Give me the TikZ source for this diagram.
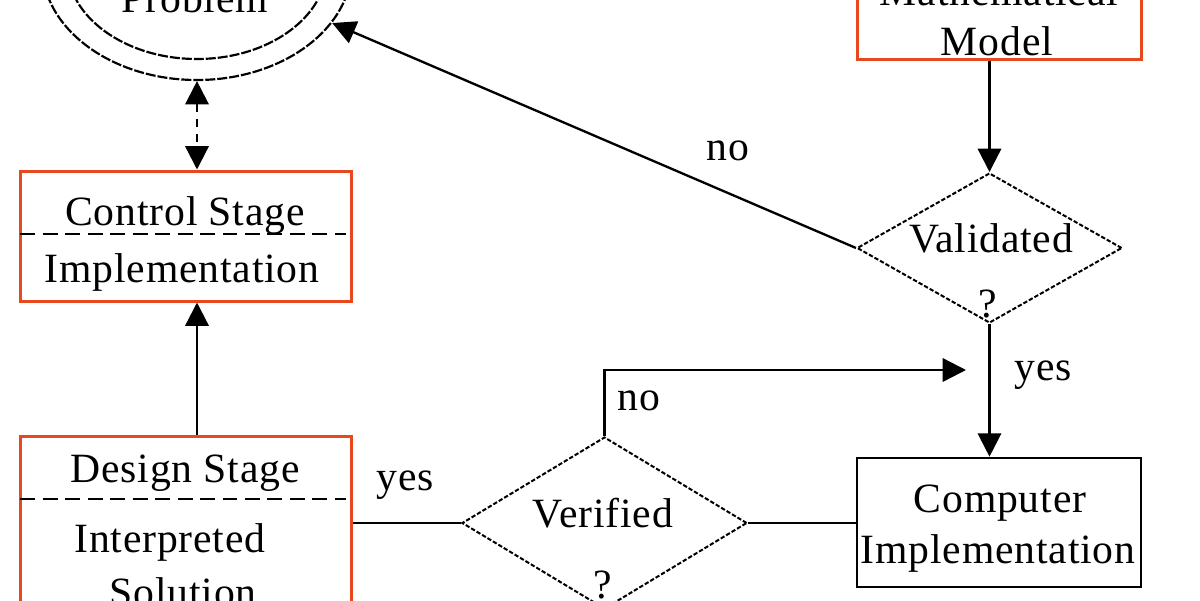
\documentclass[tikz,border=0pt]{standalone}
\usepackage{fontspec}
\setmainfont{Liberation Serif}[LetterSpace=2]
\usetikzlibrary{shapes.geometric,arrows.meta}
\definecolor{boxred}{RGB}{232,72,30}
\tikzset{
  lbl/.style={anchor=base, inner sep=0pt, font=\fontsize{25}{30}\selectfont},
  obox/.style={draw=boxred, line width=1.8pt, rectangle, inner sep=0pt},
  kbox/.style={draw=black, line width=1.6pt, rectangle, inner sep=0pt},
  dia/.style={draw=black, line width=1.2pt, diamond, inner sep=0pt, dash pattern=on 2.6pt off 1.2pt},
  conn/.style={draw=black, line width=1.4pt},
  arr/.style={conn, -{Triangle[length=14pt, width=14pt]}},
  divider/.style={draw=black, line width=1.3pt, dash pattern=on 9pt off 4.5pt},
}
\begin{document}
\begin{tikzpicture}[x=0.6pt, y=-0.6pt]
\useasboundingbox (0,0) rectangle (1200,600);
\clip (0,0) rectangle (1200,600);
\fill[white] (0,0) rectangle (1200,600);

% Problem (double ellipse)
\node[draw=black, line width=1.3pt, ellipse, inner sep=0pt, dash pattern=on 6pt off 1.2pt,
      minimum width=310*0.6pt, minimum height=230*0.6pt] (prob) at (197,-35) {};
\node[draw=black, line width=1.3pt, ellipse, inner sep=0pt, dash pattern=on 6pt off 1.2pt,
      minimum width=260*0.6pt, minimum height=188*0.6pt] (probin) at (197,-35) {};
\node[lbl] (tprob) at (195,12) {Problem};

% Mathematical Model box
\node[obox, minimum width=284*0.6pt, minimum height=129*0.6pt] (math) at (999,-5.5) {};
\node[lbl] (tmath1) at (999,5) {Mathematical};
\node[lbl] (tmath2) at (997,55) {Model};

% Control Stage box
\node[obox, minimum width=331*0.6pt, minimum height=130*0.6pt] (ctrl) at (185.5,236) {};
\coordinate (cdl) at (20,234);
\coordinate (cdr) at (346,234);
\draw[divider] (cdl) -- (cdr);
\node[lbl] (tctrl1) at (185,225) {Control Stage};
\node[lbl] (tctrl2) at (182,282) {Implementation};

% Design Stage box
\node[obox, minimum width=331*0.6pt, minimum height=214*0.6pt] (des) at (185.5,543) {};
\coordinate (ddl) at (20,499);
\coordinate (ddr) at (346,499);
\draw[divider] (ddl) -- (ddr);
\node[lbl] (tdes1) at (185,482) {Design Stage};
\node[lbl] (tdes2) at (170,552) {Interpreted};
\node[lbl] (tdes3) at (183,606) {Solution};

% Verified diamond
\node[dia, minimum width=285*0.6pt, minimum height=172*0.6pt] (ver) at (604.5,523) {};
\node[lbl] (tver1) at (603,527) {Verified};
\node[lbl] (tver2) at (603,598) {?};

% Validated diamond
\node[dia, minimum width=265*0.6pt, minimum height=150*0.6pt] (val) at (989.5,248) {};
\node[lbl] (tval1) at (991,252) {Validated};
\node[lbl] (tval2) at (988,317) {?};

% Computer Implementation box
\node[kbox, minimum width=284*0.6pt, minimum height=129*0.6pt] (comp) at (999,522.5) {};
\node[lbl] (tcomp1) at (1000,512) {Computer};
\node[lbl] (tcomp2) at (998,563) {Implementation};

% connectors
\draw[conn, dash pattern=on 5pt off 4pt, {Triangle[length=14pt, width=14pt]}-{Triangle[length=14pt, width=14pt]}] (prob.south) -- (prob.south |- ctrl.north);
\draw[arr] (prob.south |- des.north) -- (prob.south |- ctrl.south);
\draw[arr] (val.north |- math.south) -- (val.north);
\draw[arr] (val.south) -- (val.south |- comp.north);
\draw[arr] (val.west) -- (prob);
\draw[conn] (des.east |- ver.west) -- (ver.west);
\draw[conn] (ver.east) -- (comp.west |- ver.east);
\coordinate (noend) at (966,370);
\draw[arr] (ver.north) |- (noend);

% labels
\node[lbl] (lyes1) at (405,490) {yes};
\node[lbl] (lno1) at (639,410) {no};
\node[lbl] (lyes2) at (1043,380) {yes};
\node[lbl] (lno2) at (728,160) {no};
\end{tikzpicture}
\end{document}
